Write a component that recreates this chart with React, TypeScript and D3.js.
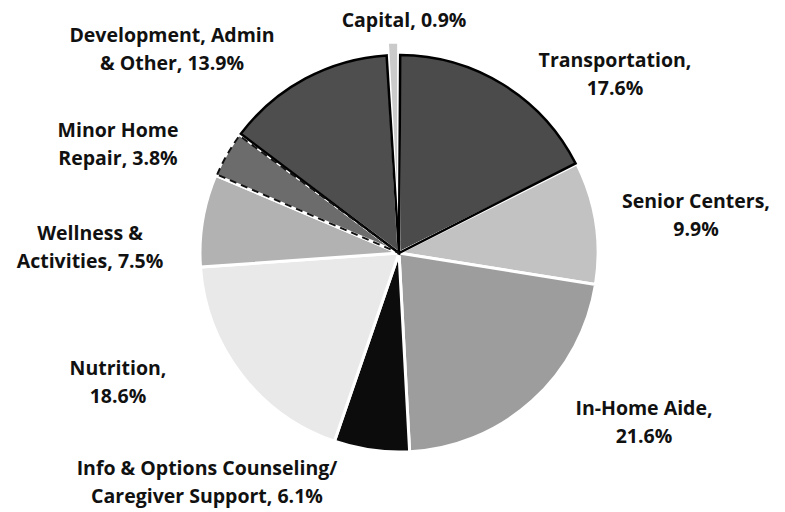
import React from "react";
import * as d3 from "d3";

// values in percent, clockwise from 12 o'clock
const categories = [
  "Transportation",
  "Senior Centers",
  "In-Home Aide",
  "Info & Options Counseling/ Caregiver Support",
  "Nutrition",
  "Wellness & Activities",
  "Minor Home Repair",
  "Development, Admin & Other",
  "Capital",
];
const shares = [17.6, 9.9, 21.6, 6.1, 18.6, 7.5, 3.8, 13.9, 0.9];
const fills = ["#4b4b4b", "#c2c2c2", "#9d9d9d", "#0c0c0c", "#e9e9e9", "#b2b2b2", "#6c6c6c", "#4e4e4e", "#cacaca"];

// label text lines and anchor positions (centre of first line baseline)
const labelLines = [
  ["Transportation,", "17.6%"],
  ["Senior Centers,", "9.9%"],
  ["In-Home Aide,", "21.6%"],
  ["Info & Options Counseling/", "Caregiver Support, 6.1%"],
  ["Nutrition,", "18.6%"],
  ["Wellness &", "Activities, 7.5%"],
  ["Minor Home", "Repair, 3.8%"],
  ["Development, Admin", "& Other, 13.9%"],
  ["Capital, 0.9%"],
];
const labelPos: [number, number][] = [
  [615, 67], [696, 208], [644, 415], [207, 475], [118, 375],
  [90, 240], [118, 137], [172, 42], [404, 27],
];

const W = 785;
const H = 512;
const cx = 399;
const cy = 253;
const R = 199;

export default function App() {
  const pie = d3.pie<number>().sort(null).value((d) => d);
  const arcs = pie(shares);
  const arc = d3.arc<d3.PieArcDatum<number>>().innerRadius(0).outerRadius(R);
  const outline = d3.arc<d3.PieArcDatum<number>>().innerRadius(0).outerRadius(R - 1).padAngle(0.012);

  return (
    <svg width={W} height={H} style={{ position: "absolute", left: 0, top: 0, background: "#fff" }}>
      <g transform={`translate(${cx},${cy})`}>
        {arcs.map((a, i) => {
          const explode = categories[i] === "Capital" ? 12 : 0;
          const mid = (a.startAngle + a.endAngle) / 2;
          const dx = Math.sin(mid) * explode;
          const dy = -Math.cos(mid) * explode;
          return (
            <path
              key={categories[i]}
              d={arc(a) || ""}
              transform={`translate(${dx},${dy})`}
              fill={fills[i]}
              stroke="#fff"
              strokeWidth={3}
            />
          );
        })}
        {[0, 7].map((i) => (
          <path key={"o" + i} d={outline(arcs[i]) || ""} fill="none" stroke="#000" strokeWidth={2.5} />
        ))}
        <path d={outline(arcs[6]) || ""} fill="none" stroke="#111" strokeWidth={2} strokeDasharray="7 5" />
      </g>
      <g fontFamily="'Open Sans', sans-serif" fontWeight={700} fontSize={19.5} fill="#111" textAnchor="middle">
        {labelLines.map((lines, i) => (
          <text key={i} x={labelPos[i][0]} y={labelPos[i][1]}>
            {lines.map((t, j) => (
              <tspan key={j} x={labelPos[i][0]} dy={j === 0 ? 0 : 28}>
                {t}
              </tspan>
            ))}
          </text>
        ))}
      </g>
    </svg>
  );
}
